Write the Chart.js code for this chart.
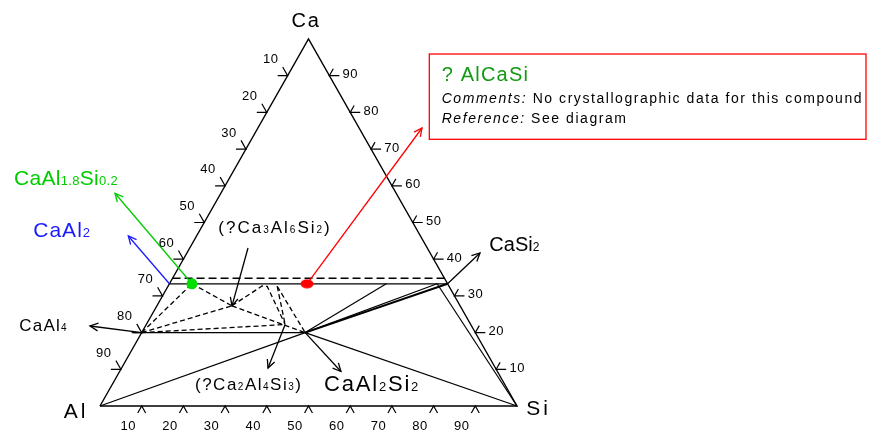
<!DOCTYPE html>
<html><head><meta charset="utf-8">
<script src="https://cdn.jsdelivr.net/npm/chart.js@4/dist/chart.umd.min.js"></script>
<style>html,body{margin:0;padding:0;background:#fff;}#c{display:block;}</style>
</head><body>
<canvas id="c" width="870" height="435"></canvas>
<script>
// ---------- DATA (compositions in at.%: Ca and Si; Al = 100 - Ca - Si) ----------
const tickValues = [10, 20, 30, 40, 50, 60, 70, 80, 90];
const leftTickLabels = ['10', '20', '30', '40', '50', '60', '70', '80', '90'];   // Al at.% (left edge, from Ca)
const rightTickLabels = ['90', '80', '70', '60', '50', '40', '30', '20', '10'];  // Ca at.% (right edge, from Ca)
const bottomTickLabels = ['10', '20', '30', '40', '50', '60', '70', '80', '90']; // Si at.% (bottom edge, from Al)

const nodeNames = ['Al', 'Ca', 'Si', 'CaAl4', 'CaAl4x', 'CaAl2', 'CaAl1.8Si0.2', 'AlCaSi', 'CaSi2', 'CaAl2Si2', 'Ca3Al6Si2', 'Ca2Al4Si3', 'P52', 'P64', 'D1', 'D2', 'K1', 'K2', 'K3'];
const nodeCa    = [0, 100, 0, 20, 20, 33.3, 33.3, 33.3, 33.3, 20, 27.3, 22.2, 33.3, 33.3, 34.8, 34.8, 32.7, 32.6, 32.6];
const nodeSi    = [0, 0, 100, 0, -2, 0, 5.4, 33, 66.7, 39.2, 18, 33.3, 52, 64.2, 0, 65.2, 22.5, 23.8, 26.2];

const edgeLines   = [['Al', 'Si', 'Ca', 'Al']];
const solidTies   = [['CaAl2', 'CaSi2'], ['CaAl4x', 'CaAl2Si2'], ['Al', 'CaAl2Si2'], ['CaAl2Si2', 'Si'], ['CaAl2Si2', 'P52'], ['CaAl2Si2', 'P64'], ['P64', 'Si']];
const thickTies   = [['CaAl2Si2', 'CaSi2']];
const longDashed  = [['D1', 'D2']];
const shortDashed = [['CaAl4', 'CaAl1.8Si0.2'], ['CaAl4', 'Ca3Al6Si2'], ['CaAl4', 'Ca2Al4Si3'], ['CaAl1.8Si0.2', 'Ca3Al6Si2'], ['Ca3Al6Si2', 'CaAl2Si2'], ['Ca3Al6Si2', 'K1', 'K2', 'Ca2Al4Si3'], ['K3', 'CaAl2Si2'], ['K3', 'Ca2Al4Si3']];

// arrows: [from node or {x,y}, to node or {x,y}, colour]   (x,y in the diagram's cartesian units)
const arrowDefs = [
  ['CaAl2', {x: 0.0679, y: 0.4632}, '#1a1aff'],
  ['CaAl1.8Si0.2', {x: 0.0360, y: 0.5796}, '#00cc00'],
  ['AlCaSi', {x: 0.7722, y: 0.7575}, '#ff0000'],
  ['CaSi2', {x: 0.9113, y: 0.4169}, '#000'],
  ['CaAl4', {x: -0.0240, y: 0.2180}, '#000'],
  [{x: 0.3549, y: 0.4305}, 'Ca3Al6Si2', '#000'],
  ['Ca2Al4Si3', {x: 0.4029, y: 0.1035}, '#000'],
  ['CaAl2Si2', {x: 0.5779, y: 0.0940}, '#000']
];
const markerNodes  = ['CaAl1.8Si0.2', 'AlCaSi'];
const markerColors = ['#00dd00', '#ff0000'];

// text labels: text ("_{..}" = subscript), anchor in cartesian units
const labelTexts  = ['Ca', 'Al', 'Si', 'CaAl_{1.8}Si_{0.2}', 'CaAl_{2}', '(?Ca_{3}Al_{6}Si_{2})', 'CaSi_{2}', 'CaAl_{4}', '(?Ca_{2}Al_{4}Si_{3})', 'CaAl_{2}Si_{2}'];
const labelX      = [0.4945, -0.0576, 1.0516, -0.2062, -0.1600, 0.2837, 0.9336, -0.1935, 0.2278, 0.5372];
const labelY      = [1.0518, -0.0109, -0.0041, 0.6226, 0.4809, 0.4877, 0.4414, 0.2207, 0.0599, 0.0613];
const labelSize   = [20, 21, 21, 21, 21, 17, 20, 17, 17, 22];
const labelSpace  = [2, 3, 3, 0.3, 1, 2, 0, 1.2, 1.5, 1.8];
const labelAlign  = ['center', 'center', 'center', 'left', 'left', 'left', 'left', 'left', 'left', 'left'];
const labelColor  = ['#000', '#000', '#000', '#00cc00', '#1a1aff', '#000', '#000', '#000', '#000', '#000'];

const boxCorners = [{x: 0.7897, y: 0.9591}, {x: 1.8369, y: 0.7267}];
const boxTitle = '? AlCaSi';
const boxLines = [['Comments:', ' No crystallographic data for this compound'], ['Reference:', ' See diagram']];
const boxTextX = 0.8194;
const boxTextY = [0.9046, 0.8365, 0.7820];

// ---------- helpers ----------
function node(name) {
  const i = nodeNames.indexOf(name);
  const ca = nodeCa[i] / 100, si = nodeSi[i] / 100;
  return {x: si + ca / 2, y: ca};
}
function pt(p) { return typeof p === 'string' ? node(p) : p; }
function tern(ca, si) { return {x: si / 100 + ca / 200, y: ca / 100}; }

const datasets = [];
function addLines(list, width, dash) {
  list.forEach(l => datasets.push({data: l.map(node), showLine: true, borderColor: '#000', borderWidth: width, borderDash: dash, pointRadius: 0, fill: false, order: 5}));
}
addLines(edgeLines, 1.4, []);
addLines(solidTies, 1.2, []);
addLines(thickTies, 2, []);
addLines(longDashed, 1.4, [8, 4]);
addLines(shortDashed, 1.3, [5, 3]);
arrowDefs.forEach(a => datasets.push({data: [pt(a[0]), pt(a[1])], showLine: true, borderColor: a[2], borderWidth: 1.3, pointRadius: 0, fill: false, arrow: true, order: 4}));

// red marker is an ellipse
const redEl = document.createElement('canvas'); redEl.width = 14; redEl.height = 10;
{ const c = redEl.getContext('2d'); c.fillStyle = '#ff0000'; c.beginPath(); c.ellipse(7, 5, 6.5, 4.5, 0, 0, Math.PI * 2); c.fill(); }
markerNodes.forEach((n, i) => datasets.push({data: [node(n)], showLine: false, pointRadius: 5.5, pointStyle: i === 1 ? redEl : 'circle', order: 0,
  pointBackgroundColor: markerColors[i], pointBorderColor: markerColors[i], pointBorderWidth: 0, backgroundColor: markerColors[i], borderColor: markerColors[i]}));

function drawRich(ctx, text, x, y, size, spacing, align, color) {
  const parts = [];
  const re = /_\{([^}]*)\}/g; let last = 0, m;
  while ((m = re.exec(text))) { if (m.index > last) parts.push([text.slice(last, m.index), false]); parts.push([m[1], true]); last = re.lastIndex; }
  if (last < text.length) parts.push([text.slice(last), false]);
  const sub = Math.round(size * 0.6);
  ctx.letterSpacing = spacing + 'px';
  let w = 0;
  parts.forEach(p => { ctx.font = (p[1] ? sub : size) + 'px "Liberation Sans", Arial, sans-serif'; w += ctx.measureText(p[0]).width; });
  let cx = align === 'center' ? x - w / 2 : x;
  ctx.fillStyle = color; ctx.textAlign = 'left'; ctx.textBaseline = 'alphabetic';
  const base = y + size * 0.36;
  parts.forEach(p => { ctx.font = (p[1] ? sub : size) + 'px "Liberation Sans", Arial, sans-serif'; ctx.fillText(p[0], cx, base); cx += ctx.measureText(p[0]).width; });
  ctx.letterSpacing = '0px';
}

const ternPlugin = {
  id: 'tern',
  afterDatasetsDraw(chart) {
    const ctx = chart.ctx, sx = chart.scales.x, sy = chart.scales.y;
    const P = d => ({x: sx.getPixelForValue(d.x), y: sy.getPixelForValue(d.y)});
    ctx.save();
    // arrowheads
    chart.data.datasets.forEach((ds, i) => {
      if (!ds.arrow) return;
      const pts = chart.getDatasetMeta(i).data; const a = pts[pts.length - 2], b = pts[pts.length - 1];
      const ang = Math.atan2(b.y - a.y, b.x - a.x), L = 9, h = 0.45;
      ctx.strokeStyle = ds.borderColor; ctx.lineWidth = 1.3; ctx.beginPath();
      ctx.moveTo(b.x - L * Math.cos(ang - h), b.y - L * Math.sin(ang - h)); ctx.lineTo(b.x, b.y);
      ctx.lineTo(b.x - L * Math.cos(ang + h), b.y - L * Math.sin(ang + h)); ctx.stroke();
    });
    // edge tick chevrons
    const A = P(node('Al')), C = P(node('Ca')), S = P(node('Si'));
    const unit = (p, q) => { const dx = q.x - p.x, dy = q.y - p.y, l = Math.hypot(dx, dy); return {x: dx / l, y: dy / l}; };
    const dSC = unit(S, C), dAC = unit(A, C), dCA = unit(C, A), dCS = unit(C, S);
    ctx.strokeStyle = '#000'; ctx.lineWidth = 1.2;
    const chevron = (p, u, v, lu, lv) => { ctx.beginPath(); ctx.moveTo(p.x + u.x * lu, p.y + u.y * lu); ctx.lineTo(p.x, p.y); ctx.lineTo(p.x + v.x * lv, p.y + v.y * lv); ctx.stroke(); };
    ctx.fillStyle = '#000'; ctx.textAlign = 'center'; ctx.textBaseline = 'middle';
    ctx.font = '13px "Liberation Sans", Arial, sans-serif'; ctx.letterSpacing = '0.5px';
    tickValues.forEach((v, i) => {
      const pl = P(tern(100 - v, 0));           // left edge, Al = v
      chevron(pl, dSC, {x: -1, y: 0}, 10, 10);
      ctx.fillText(leftTickLabels[i], pl.x - 17, pl.y - 16);
      const pr = P(tern(100 - v, v));           // right edge, Ca = 100 - v from top
      chevron(pr, {x: 1, y: 0}, dAC, 10, 8);
      ctx.fillText(rightTickLabels[i], pr.x + 21, pr.y - 1);
      const pb = P(tern(0, v));                 // bottom edge, Si = v
      chevron(pb, dCA, dCS, 8, 8);
      ctx.fillText(bottomTickLabels[i], pb.x - 13.5, pb.y + 20);
    });
    ctx.letterSpacing = '0px';
    // labels
    labelTexts.forEach((t, i) => { const p = P({x: labelX[i], y: labelY[i]}); drawRich(ctx, t, p.x, p.y, labelSize[i], labelSpace[i], labelAlign[i], labelColor[i]); });
    // info box
    const b0 = P(boxCorners[0]), b1 = P(boxCorners[1]);
    ctx.strokeStyle = '#ff0000'; ctx.lineWidth = 1.3; ctx.strokeRect(b0.x, b0.y, b1.x - b0.x, b1.y - b0.y);
    const t0 = P({x: boxTextX, y: boxTextY[0]});
    drawRich(ctx, boxTitle, t0.x, t0.y, 20, 1.2, 'left', '#129a12');
    boxLines.forEach((ln, k) => {
      const p = P({x: boxTextX, y: boxTextY[k + 1]});
      ctx.letterSpacing = '1.55px'; ctx.fillStyle = '#000'; ctx.textAlign = 'left'; ctx.textBaseline = 'middle';
      ctx.font = 'italic 14px "Liberation Sans", Arial, sans-serif'; ctx.fillText(ln[0], p.x, p.y);
      const w = ctx.measureText(ln[0]).width;
      ctx.font = '14px "Liberation Sans", Arial, sans-serif'; ctx.fillText(ln[1], p.x + w, p.y);
    });
    ctx.letterSpacing = '0px';
    ctx.restore();
  }
};

new Chart(document.getElementById('c'), {
  type: 'scatter',
  data: {datasets},
  options: {
    responsive: false, animation: false, events: [],
    layout: {padding: 0, autoPadding: false},
    plugins: {legend: {display: false}, tooltip: {enabled: false}},
    scales: {
      x: {type: 'linear', display: false, min: -100 / 417, max: 770 / 417},
      y: {type: 'linear', display: false, min: -29 / 367, max: 406 / 367}
    }
  },
  plugins: [ternPlugin]
});
</script>
</body></html>
